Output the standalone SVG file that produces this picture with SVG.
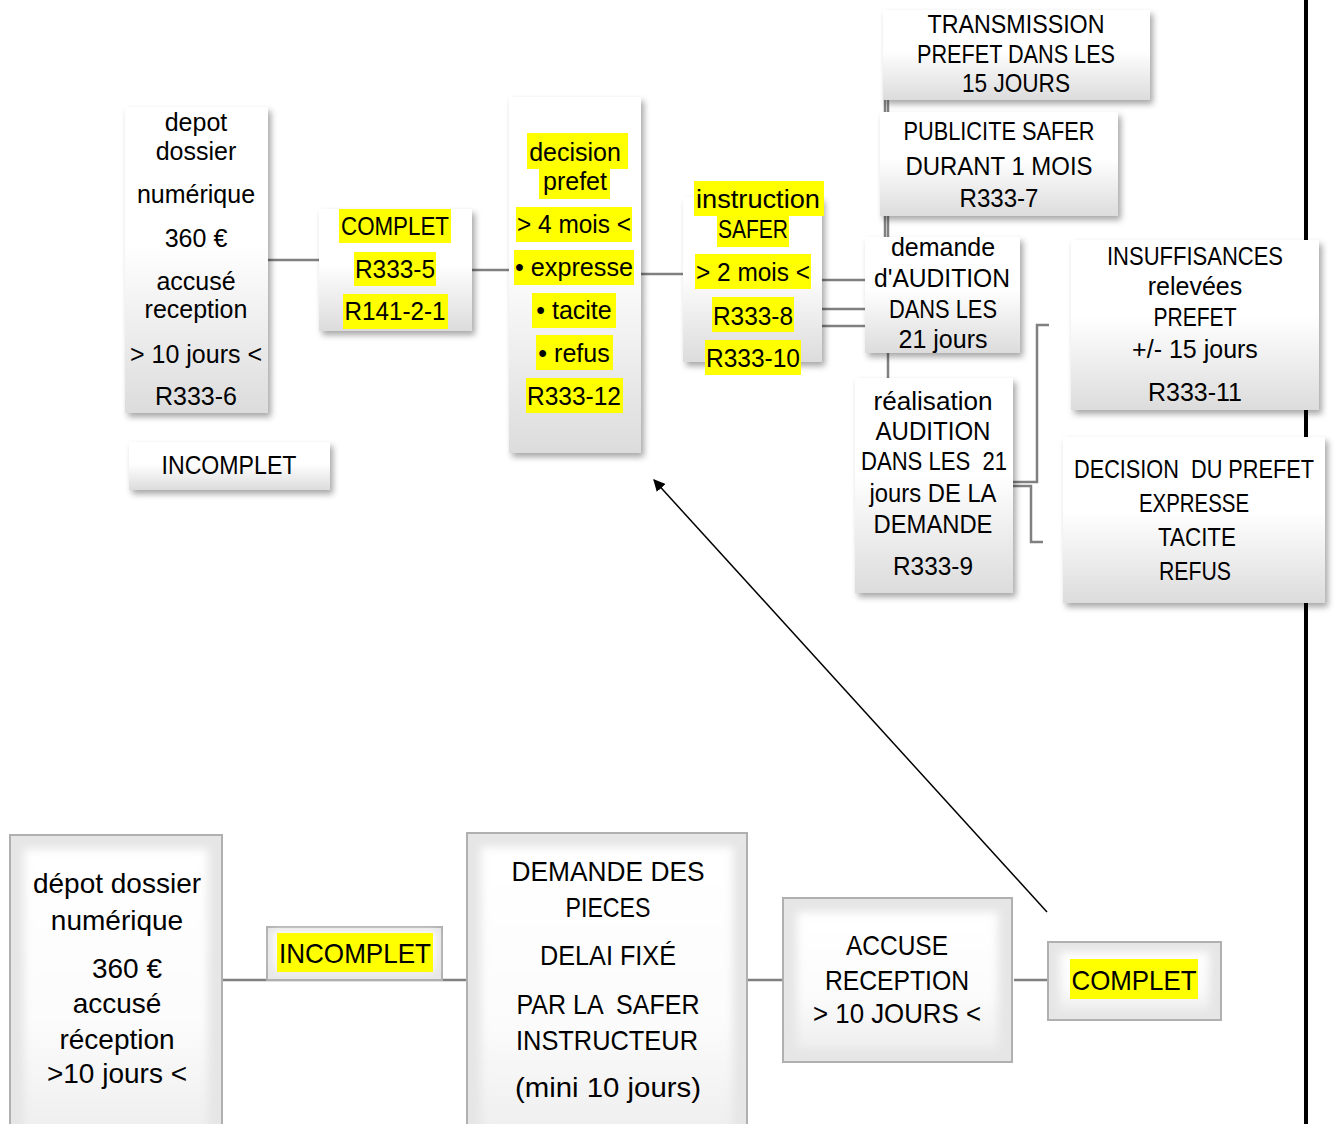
<svg xmlns="http://www.w3.org/2000/svg" width="1336" height="1124" viewBox="0 0 1336 1124">
<defs>
<linearGradient id="gTop" x1="0" y1="0" x2="0" y2="1">
<stop offset="0" stop-color="#ffffff"/>
<stop offset="0.45" stop-color="#ffffff"/>
<stop offset="1" stop-color="#dcdcdc"/>
</linearGradient>
<linearGradient id="gFace" x1="0" y1="0" x2="0" y2="1">
<stop offset="0" stop-color="#ffffff"/>
<stop offset="0.6" stop-color="#fcfcfc"/>
<stop offset="1" stop-color="#efefef"/>
</linearGradient>
<filter id="shadow" x="-20%" y="-20%" width="140%" height="140%">
<feDropShadow dx="3" dy="4" stdDeviation="3" flood-color="#000" flood-opacity="0.35"/>
</filter>
<filter id="soft" x="-10%" y="-10%" width="120%" height="120%">
<feGaussianBlur stdDeviation="4"/>
</filter>
<marker id="arrow" viewBox="0 0 10 10" refX="9" refY="5" markerWidth="12" markerHeight="12" markerUnits="userSpaceOnUse" orient="auto">
<path d="M0,0 L10,5 L0,10 z" fill="#000"/>
</marker>
<style>
.box{fill:url(#gTop);filter:url(#shadow);}
.hl{fill:#ffff00;}
.t{font-family:"Liberation Sans",Arial,sans-serif;font-size:25px;fill:#000;text-anchor:middle;}
.tb{font-family:"Liberation Sans",Arial,sans-serif;font-size:28px;fill:#000;text-anchor:middle;}
.con{fill:none;stroke:#808080;stroke-width:2.5;}
.bevout{fill:#e6e6e6;stroke:#b0b0b0;stroke-width:2;}
.bevin{fill:url(#gFace);filter:url(#soft);}
</style>
</defs>

<!-- black vertical line -->
<line x1="1306" y1="0" x2="1306" y2="1124" stroke="#000" stroke-width="4"/>

<g id="connectors">
<line class="con" x1="268" y1="260" x2="319" y2="260"/>
<line class="con" x1="472" y1="270" x2="509" y2="270"/>
<line class="con" x1="641" y1="274" x2="683" y2="274"/>
<line class="con" x1="822" y1="280" x2="865" y2="280"/>
<line class="con" x1="822" y1="309" x2="865" y2="309"/>
<line class="con" x1="822" y1="326" x2="865" y2="326"/>
<line class="con" x1="888" y1="100" x2="888" y2="378"/>
<line class="con" x1="885" y1="100" x2="885" y2="237"/>
<polyline class="con" points="1013,482 1037,482 1037,325 1049,325"/>
<polyline class="con" points="1013,486 1031,486 1031,542 1043,542"/>
<line class="con" x1="222" y1="980" x2="467" y2="980" stroke-width="3"/>
<line class="con" x1="747" y1="980" x2="784" y2="980" stroke-width="3"/>
<line class="con" x1="1014" y1="980" x2="1050" y2="980" stroke-width="3"/>
<line x1="1047" y1="912" x2="654" y2="480" stroke="#000" stroke-width="1.5" marker-end="url(#arrow)"/>
</g>

<g id="n-depot">
<rect class="box" x="125" y="107" width="143" height="306"/>
<text class="t" x="196" y="131">depot</text>
<text class="t" x="196" y="160">dossier</text>
<text class="t" x="196" y="203">numérique</text>
<text class="t" x="196" y="247">360 €</text>
<text class="t" x="196" y="290">accusé</text>
<text class="t" x="196" y="318">reception</text>
<text class="t" x="196" y="363">&gt; 10 jours &lt;</text>
<text class="t" x="196" y="405">R333-6</text>
</g>

<g id="n-complet">
<rect class="box" x="319" y="209" width="153" height="122"/>
<rect class="hl" x="339" y="209" width="112" height="34"/>
<rect class="hl" x="354" y="252" width="82" height="34"/>
<rect class="hl" x="343" y="294" width="105" height="35"/>
<text class="t" x="395" y="235" textLength="108" lengthAdjust="spacingAndGlyphs">COMPLET</text>
<text class="t" x="395" y="278" textLength="80" lengthAdjust="spacingAndGlyphs">R333-5</text>
<text class="t" x="395" y="320" textLength="101" lengthAdjust="spacingAndGlyphs">R141-2-1</text>
</g>

<g id="n-incomplet-top">
<rect class="box" x="129" y="442" width="201" height="48"/>
<text class="t" x="229" y="474" textLength="135" lengthAdjust="spacingAndGlyphs">INCOMPLET</text>
</g>

<g id="n-decision">
<rect class="box" x="509" y="97" width="132" height="356"/>
<rect class="hl" x="527" y="133" width="101" height="36"/>
<rect class="hl" x="539" y="169" width="71" height="30"/>
<rect class="hl" x="516" y="207" width="116" height="35"/>
<rect class="hl" x="514" y="250" width="120" height="35"/>
<rect class="hl" x="532" y="293" width="84" height="35"/>
<rect class="hl" x="536" y="335" width="77" height="35"/>
<rect class="hl" x="526" y="378" width="97" height="35"/>
<text class="t" x="575" y="161">decision</text>
<text class="t" x="575" y="190">prefet</text>
<text class="t" x="574" y="233" textLength="114" lengthAdjust="spacingAndGlyphs">&gt; 4 mois &lt;</text>
<text class="t" x="574" y="276" textLength="118" lengthAdjust="spacingAndGlyphs">• expresse</text>
<text class="t" x="574" y="319">• tacite</text>
<text class="t" x="574" y="362">• refus</text>
<text class="t" x="574" y="405" textLength="94" lengthAdjust="spacingAndGlyphs">R333-12</text>
</g>

<g id="n-instruction">
<rect class="box" x="683" y="197" width="139" height="165"/>
<rect class="hl" x="694" y="181" width="130" height="35"/>
<rect class="hl" x="717" y="216" width="72" height="31"/>
<rect class="hl" x="695" y="254" width="116" height="35"/>
<rect class="hl" x="712" y="297" width="82" height="35"/>
<rect class="hl" x="705" y="340" width="96" height="35"/>
<text class="t" x="758" y="208" textLength="124" lengthAdjust="spacingAndGlyphs">instruction</text>
<text class="t" x="753" y="238" textLength="70" lengthAdjust="spacingAndGlyphs">SAFER</text>
<text class="t" x="753" y="281" textLength="114" lengthAdjust="spacingAndGlyphs">&gt; 2 mois &lt;</text>
<text class="t" x="753" y="325" textLength="80" lengthAdjust="spacingAndGlyphs">R333-8</text>
<text class="t" x="753" y="367" textLength="94" lengthAdjust="spacingAndGlyphs">R333-10</text>
</g>

<g id="n-transmission">
<rect class="box" x="883" y="10" width="267" height="90"/>
<text class="t" x="1016" y="33" textLength="177" lengthAdjust="spacingAndGlyphs">TRANSMISSION</text>
<text class="t" x="1016" y="63" textLength="198" lengthAdjust="spacingAndGlyphs">PREFET DANS LES</text>
<text class="t" x="1016" y="92" textLength="108" lengthAdjust="spacingAndGlyphs">15 JOURS</text>
</g>

<g id="n-publicite">
<rect class="box" x="880" y="112" width="238" height="104"/>
<text class="t" x="999" y="140" textLength="191" lengthAdjust="spacingAndGlyphs">PUBLICITE SAFER</text>
<text class="t" x="999" y="175" textLength="187" lengthAdjust="spacingAndGlyphs">DURANT 1 MOIS</text>
<text class="t" x="999" y="207" textLength="79" lengthAdjust="spacingAndGlyphs">R333-7</text>
</g>

<g id="n-demande-audition">
<rect class="box" x="865" y="237" width="155" height="116"/>
<text class="t" x="943" y="256">demande</text>
<text class="t" x="942" y="287" textLength="136" lengthAdjust="spacingAndGlyphs">d'AUDITION</text>
<text class="t" x="943" y="318" textLength="108" lengthAdjust="spacingAndGlyphs">DANS LES</text>
<text class="t" x="943" y="348">21 jours</text>
</g>

<g id="n-realisation">
<rect class="box" x="855" y="378" width="158" height="215"/>
<text class="t" x="933" y="410" textLength="119" lengthAdjust="spacingAndGlyphs">réalisation</text>
<text class="t" x="933" y="440" textLength="115" lengthAdjust="spacingAndGlyphs">AUDITION</text>
<text class="t" x="934" y="470" textLength="146" lengthAdjust="spacingAndGlyphs" xml:space="preserve">DANS LES  21</text>
<text class="t" x="933" y="502" textLength="127" lengthAdjust="spacingAndGlyphs">jours DE LA</text>
<text class="t" x="933" y="533" textLength="119" lengthAdjust="spacingAndGlyphs">DEMANDE</text>
<text class="t" x="933" y="575" textLength="80" lengthAdjust="spacingAndGlyphs">R333-9</text>
</g>

<g id="n-insuffisances">
<rect class="box" x="1071" y="240" width="248" height="170"/>
<text class="t" x="1195" y="265" textLength="176" lengthAdjust="spacingAndGlyphs">INSUFFISANCES</text>
<text class="t" x="1195" y="295">relevées</text>
<text class="t" x="1195" y="326" textLength="83" lengthAdjust="spacingAndGlyphs">PREFET</text>
<text class="t" x="1195" y="358">+/- 15 jours</text>
<text class="t" x="1195" y="401" textLength="94" lengthAdjust="spacingAndGlyphs">R333-11</text>
</g>

<g id="n-decision-prefet">
<rect class="box" x="1063" y="437" width="262" height="166"/>
<text class="t" x="1194" y="478" textLength="240" lengthAdjust="spacingAndGlyphs" xml:space="preserve">DECISION  DU PREFET</text>
<text class="t" x="1194" y="512" textLength="110" lengthAdjust="spacingAndGlyphs">EXPRESSE</text>
<text class="t" x="1197" y="546" textLength="78" lengthAdjust="spacingAndGlyphs">TACITE</text>
<text class="t" x="1195" y="580" textLength="72" lengthAdjust="spacingAndGlyphs">REFUS</text>
</g>

<!-- bottom section -->
<g id="b-depot">
<rect class="bevout" x="10" y="835" width="212" height="310"/>
<rect class="bevin" x="24" y="849" width="184" height="282"/>
<text class="tb" x="117" y="893">dépot dossier</text>
<text class="tb" x="117" y="930">numérique</text>
<text class="tb" x="127" y="978">360 €</text>
<text class="tb" x="117" y="1013">accusé</text>
<text class="tb" x="117" y="1049">réception</text>
<text class="tb" x="117" y="1083">&gt;10 jours &lt;</text>
</g>

<g id="b-incomplet">
<rect class="bevout" x="267" y="927" width="175" height="53"/>
<rect class="bevin" x="273" y="931" width="163" height="43"/>
<rect class="hl" x="277" y="933" width="156" height="39"/>
<text class="tb" x="355" y="963" textLength="152" lengthAdjust="spacingAndGlyphs">INCOMPLET</text>
</g>

<g id="b-demande">
<rect class="bevout" x="467" y="833" width="280" height="310"/>
<rect class="bevin" x="481" y="847" width="252" height="282"/>
<text class="tb" x="608" y="881" textLength="193" lengthAdjust="spacingAndGlyphs">DEMANDE DES</text>
<text class="tb" x="608" y="917" textLength="85" lengthAdjust="spacingAndGlyphs">PIECES</text>
<text class="tb" x="608" y="965" textLength="136" lengthAdjust="spacingAndGlyphs">DELAI FIXÉ</text>
<text class="tb" x="608" y="1014" textLength="183" lengthAdjust="spacingAndGlyphs" xml:space="preserve">PAR LA  SAFER</text>
<text class="tb" x="607" y="1050" textLength="182" lengthAdjust="spacingAndGlyphs">INSTRUCTEUR</text>
<text class="tb" x="608" y="1097" textLength="186" lengthAdjust="spacingAndGlyphs">(mini 10 jours)</text>
</g>

<g id="b-accuse">
<rect class="bevout" x="783" y="898" width="229" height="164"/>
<rect class="bevin" x="797" y="912" width="201" height="136"/>
<text class="tb" x="897" y="955" textLength="102" lengthAdjust="spacingAndGlyphs">ACCUSE</text>
<text class="tb" x="897" y="990" textLength="144" lengthAdjust="spacingAndGlyphs">RECEPTION</text>
<text class="tb" x="897" y="1023" textLength="168" lengthAdjust="spacingAndGlyphs">&gt; 10 JOURS &lt;</text>
</g>

<g id="b-complet">
<rect class="bevout" x="1048" y="942" width="173" height="78"/>
<rect class="bevin" x="1060" y="952" width="149" height="58"/>
<rect class="hl" x="1070" y="959" width="128" height="40"/>
<text class="tb" x="1134" y="990" textLength="125" lengthAdjust="spacingAndGlyphs">COMPLET</text>
</g>
</svg>
